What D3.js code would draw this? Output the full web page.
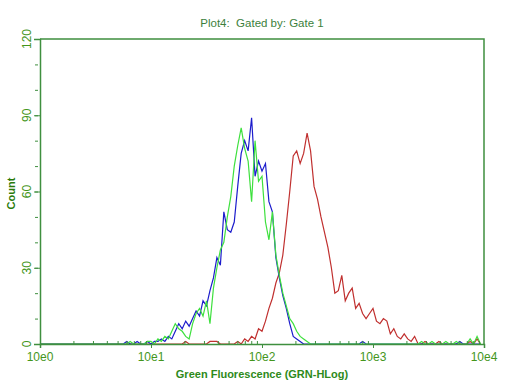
<!DOCTYPE html>
<html>
<head>
<meta charset="utf-8">
<script src="https://cdn.jsdelivr.net/npm/d3@7"></script>
<style>
  body { margin: 0; background: #fff; }
  svg { display: block; font-family: "Liberation Sans", Arial, sans-serif; }
</style>
</head>
<body>
<div id="chart"></div>
<script>
// 256 channel log scale over 4 decades, counts read every 2nd channel
const channelCount = 256;
const channelStep = 2;
const decadeTicks = [1, 10, 100, 1000, 10000];
const decadeLabels = ["10e0", "10e1", "10e2", "10e3", "10e4"];
const countTicks = [0, 30, 60, 90, 120];

// main body of each histogram: first channel, then counts
const blueStart = 60;
const blueCounts = [0, 1, 0, 1, 1, 2, 1, 3, 2, 5, 8, 6, 9, 7, 10, 13, 11, 17, 15, 21,
  26, 34, 31, 52, 45, 44, 48, 62, 75, 80, 76, 89, 66, 72, 68, 71, 56, 52, 34, 26,
  19, 14, 8, 3, 2, 1, 0];
const greenStart = 60;
const greenCounts = [0, 1, 1, 0, 2, 1, 3, 2, 5, 8, 6, 5, 3, 2, 8, 12, 14, 11, 17, 8,
  22, 30, 37, 40, 50, 58, 70, 78, 85, 77, 72, 56, 80, 64, 66, 48, 41, 52, 35, 27,
  20, 15, 10, 8, 5, 3, 2, 1, 0];
const redStart = 112;
const redCounts = [0, 1, 0, 2, 1, 3, 2, 6, 5, 9, 14, 18, 24, 28, 35, 47, 60, 74, 76, 71,
  75, 83, 76, 62, 57, 50, 44, 38, 30, 20, 21, 27, 17, 20, 22, 14, 16, 12, 10, 12,
  14, 9, 8, 10, 9, 4, 6, 3, 2, 4, 2, 1, 3, 0];

// isolated single events outside the main body: [channel, count]
const blueBlips = [[50, 1], [56, 1], [186, 1], [242, 1]];
const greenBlips = [[52, 1], [220, 1], [226, 1], [234, 1], [240, 1], [248, 2], [252, 3]];
const redBlips = [[84, 1], [98, 1], [100, 1], [102, 1], [222, 1], [230, 1], [248, 1], [252, 2]];

const margin = {top: 39, right: 28, bottom: 40, left: 40},
    width = 512 - margin.left - margin.right,
    height = 384 - margin.top - margin.bottom;

const axisColor = "#3f8f3f";
const labelColor = "#44961c";

function channelToValue(c) {
    return Math.pow(10, c * 4 / channelCount);
}

function buildSeries(start, counts, blips) {
    let full = new Array(channelCount / channelStep).fill(0);
    counts.forEach(function (n, i) {
        full[start / channelStep + i] = n;
    });
    blips.forEach(function (b) {
        full[b[0] / channelStep] = b[1];
    });
    return full.map(function (n, i) {
        return {value: channelToValue(i * channelStep), count: n};
    });
}

let x = d3.scaleLog()
    .domain([1, 10000])
    .range([0, width]);

let y = d3.scaleLinear()
    .domain([0, 120])
    .range([height, 0]);

let svg = d3.select("#chart").append("svg")
    .attr("width", 512)
    .attr("height", 384);

svg.append("text")
    .attr("x", margin.left + width / 2)
    .attr("y", 27)
    .attr("text-anchor", "middle")
    .attr("fill", "#3c7f3c")
    .style("font-size", "11.5px")
    .style("white-space", "pre")
    .text("Plot4:  Gated by: Gate 1");

let g = svg.append("g")
    .attr("transform", "translate(" + margin.left + "," + margin.top + ")");

let line = d3.line()
    .x(function (d) { return x(d.value); })
    .y(function (d) { return y(d.count); });

let series = [
    {color: "#c0302f", data: buildSeries(redStart, redCounts, redBlips)},
    {color: "#1c1ccc", data: buildSeries(blueStart, blueCounts, blueBlips)},
    {color: "#3ee03e", data: buildSeries(greenStart, greenCounts, greenBlips)}
];

g.selectAll(".trace")
    .data(series)
    .enter().append("path")
    .attr("class", "trace")
    .attr("fill", "none")
    .attr("stroke", function (d) { return d.color; })
    .attr("stroke-width", 1.2)
    .attr("d", function (d) { return line(d.data); });

// frame: top and right
g.append("path")
    .attr("fill", "none")
    .attr("stroke", axisColor)
    .attr("stroke-width", 1.5)
    .attr("d", "M0,0H" + width + "V" + height);

// y axis, minor ticks every 10
let yMinor = g.append("g")
    .call(d3.axisLeft(y).tickValues(d3.range(0, 121, 10)).tickSize(3).tickFormat(""));
yMinor.select(".domain").remove();
yMinor.selectAll("line").attr("stroke", axisColor).attr("transform", "translate(-2,0)");

let yAxis = g.append("g")
    .call(d3.axisLeft(y).tickValues(countTicks).tickSize(6).tickFormat(""));
yAxis.select(".domain").attr("stroke", axisColor).attr("stroke-width", 1.5);
yAxis.selectAll("line").attr("stroke", axisColor);

g.selectAll(".ylabel")
    .data(countTicks)
    .enter().append("text")
    .attr("class", "ylabel")
    .attr("transform", function (d) { return "translate(-9," + y(d) + ") rotate(-90)"; })
    .attr("text-anchor", "middle")
    .attr("fill", labelColor)
    .style("font-size", "12px")
    .text(function (d) { return d; });

// x axis, minor ticks at 2..9 of each decade
let minorValues = [];
decadeTicks.slice(0, 4).forEach(function (d) {
    d3.range(2, 10).forEach(function (k) { minorValues.push(d * k); });
});

let xMinor = g.append("g")
    .attr("transform", "translate(0," + (height - 3) + ")")
    .call(d3.axisBottom(x).tickValues(minorValues).tickSize(4).tickFormat(""));
xMinor.select(".domain").remove();
xMinor.selectAll("line").attr("stroke", axisColor);

let xAxis = g.append("g")
    .attr("transform", "translate(0," + height + ")")
    .call(d3.axisBottom(x).tickValues(decadeTicks).tickSize(4).tickFormat(""));
xAxis.select(".domain").attr("stroke", axisColor).attr("stroke-width", 1.5);
xAxis.selectAll("line").attr("stroke", axisColor);

g.selectAll(".xlabel")
    .data(decadeTicks)
    .enter().append("text")
    .attr("class", "xlabel")
    .attr("x", function (d) { return x(d); })
    .attr("y", height + 17)
    .attr("text-anchor", "middle")
    .attr("fill", labelColor)
    .style("font-size", "12px")
    .text(function (d, i) { return decadeLabels[i]; });

svg.append("text")
    .attr("x", margin.left + width / 2)
    .attr("y", 378)
    .attr("text-anchor", "middle")
    .attr("fill", "#2e8a1a")
    .style("font-size", "11px")
    .style("font-weight", "bold")
    .text("Green Fluorescence (GRN-HLog)");

svg.append("text")
    .attr("transform", "translate(15," + (margin.top + height / 2 + 2) + ") rotate(-90)")
    .attr("text-anchor", "middle")
    .attr("fill", "#2a7a0a")
    .style("font-size", "11px")
    .style("font-weight", "bold")
    .text("Count");
</script>
</body>
</html>
